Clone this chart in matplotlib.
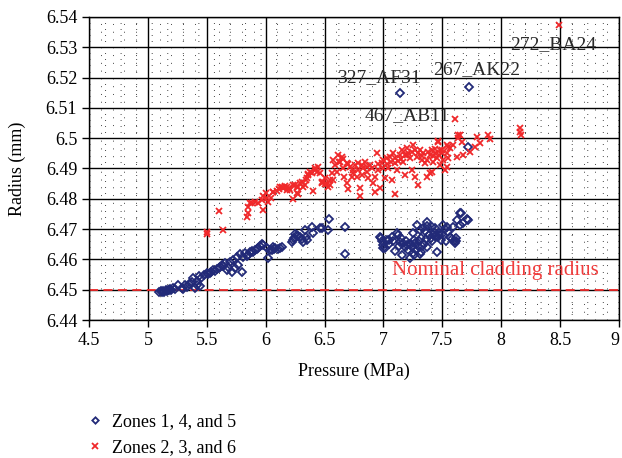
import matplotlib
matplotlib.use("Agg")
import matplotlib.pyplot as plt
from matplotlib.ticker import MultipleLocator

plt.rcParams['font.family'] = ['Liberation Serif', 'DejaVu Serif']

# Zones 1, 4, and 5 (pressure MPa, radius mm)
blue_p = [5.097, 5.11, 5.12, 5.13, 5.14, 5.15, 5.16, 5.17, 5.18, 5.19, 5.20, 5.216, 5.23,
          5.258, 5.287, 5.30, 5.315, 5.33, 5.35, 5.372, 5.386, 5.40, 5.414, 5.42, 5.437,
          5.442, 5.45, 5.48, 5.499, 5.51, 5.527, 5.54, 5.556, 5.57, 5.584, 5.60, 5.612,
          5.625, 5.64, 5.655, 5.669, 5.683, 5.697, 5.711, 5.725, 5.74, 5.754, 5.768, 5.782,
          5.796, 5.81, 5.824, 5.84, 5.853, 5.867, 5.881, 5.895, 5.909, 5.925, 5.938, 5.952,
          5.966, 5.975, 6.008, 6.022, 6.037, 6.051, 6.059, 6.07, 6.079, 6.107, 6.122, 6.136,
          6.22, 6.229, 6.24, 6.249, 6.262, 6.275, 6.291, 6.305, 6.32, 6.333, 6.342, 6.348,
          6.39, 6.399, 6.461, 6.475, 6.532, 6.54, 6.673, 6.673,
          6.97, 6.976, 6.998, 7.013, 7.027, 7.05, 7.069, 7.098, 7.111, 7.125, 7.14, 7.147,
          7.154, 7.165, 7.182, 7.19, 7.21, 7.225, 7.235, 7.253, 7.26, 7.281, 7.29, 7.31,
          7.318, 7.338, 7.345, 7.366, 7.372, 7.385, 7.409, 7.415, 7.43, 7.451, 7.46, 7.475,
          7.49, 7.508, 7.52, 7.536, 7.55, 7.564, 7.578, 7.592, 7.607, 7.615, 7.621, 7.649,
          7.65, 7.658, 7.677, 7.706, 7.72,
          7.20, 7.22, 7.24, 7.27, 7.30, 7.33, 7.36, 7.40, 7.42, 7.44, 7.47, 7.50, 7.28, 7.32,
          7.26, 7.31, 7.53, 7.60, 7.62, 7.25, 7.35, 7.37, 7.44, 7.05, 7.08, 7.13, 6.99, 7.00,
          7.72, 7.14, 7.73]
blue_r = [6.4491, 6.4495, 6.4492, 6.4497, 6.4494, 6.4499, 6.4496, 6.4500, 6.4498, 6.4502, 6.4499, 6.4504, 6.4501,
          6.4515, 6.4507, 6.4503, 6.4515, 6.4510, 6.4520, 6.4526, 6.4537, 6.4504, 6.4515, 6.4530, 6.4545,
          6.4512, 6.4540, 6.4550, 6.4554, 6.4552, 6.4556, 6.4560, 6.4565, 6.4562, 6.4567, 6.4570, 6.4574,
          6.4580, 6.4578, 6.4587, 6.4565, 6.4576, 6.4592, 6.4559, 6.4598, 6.4570, 6.4609, 6.4581, 6.4618,
          6.4559, 6.4609, 6.4620, 6.4612, 6.4614, 6.4624, 6.4629, 6.4626, 6.4631, 6.4634, 6.4637, 6.4644,
          6.4651, 6.4647, 6.4637, 6.4606, 6.4631, 6.4631, 6.4642, 6.4635, 6.4636, 6.4633, 6.4638, 6.4640,
          6.4658, 6.4664, 6.4672, 6.4684, 6.4682, 6.4676, 6.4675, 6.4666, 6.4658, 6.4697, 6.4675, 6.4664,
          6.4708, 6.4686, 6.4702, 6.4702, 6.4697, 6.4733, 6.4708, 6.4617,
          6.4673, 6.4672, 6.4636, 6.4636, 6.4664, 6.4664, 6.4675, 6.4629, 6.4686, 6.4680, 6.4658, 6.4672,
          6.4614, 6.4655, 6.4642, 6.4662, 6.4631, 6.4603, 6.4650, 6.4620, 6.4665, 6.4713, 6.4645, 6.4697,
          6.4670, 6.4702, 6.4652, 6.4724, 6.4640, 6.4680, 6.4708, 6.4660, 6.4690, 6.4626, 6.4675, 6.4688,
          6.4665, 6.4713, 6.4700, 6.4708, 6.4690, 6.4675, 6.4668, 6.4708, 6.4653, 6.4662, 6.4730, 6.4752,
          6.4713, 6.4754, 6.4719, 6.4732, 6.4730,
          6.4648, 6.4652, 6.4640, 6.4655, 6.4660, 6.4645, 6.4668, 6.4672, 6.4680, 6.4676, 6.4679, 6.4685, 6.4630, 6.4625,
          6.4615, 6.4618, 6.4660, 6.4660, 6.4670, 6.4688, 6.4695, 6.4710, 6.4705, 6.4650, 6.4660, 6.4645, 6.4660, 6.4648,
          6.4972, 6.5150, 6.5168]

# Zones 2, 3, and 6
red_p = [5.499, 5.499, 5.607, 5.635, 5.838, 5.847, 5.853, 5.867, 5.881, 5.909, 5.938, 5.966, 5.98,
         5.98, 6.003, 6.008, 6.022, 6.042, 6.059, 6.065, 6.093, 6.11, 6.122, 6.135, 6.15, 6.165,
         6.178, 6.184, 6.195, 6.207, 6.229, 6.235, 6.249, 6.262, 6.269, 6.277, 6.277, 6.292,
         6.305, 6.32, 6.334, 6.342, 6.348, 6.362, 6.362, 6.376, 6.39, 6.404, 6.419, 6.419,
         6.433, 6.447, 6.461, 6.475, 6.475, 6.49, 6.503, 6.504, 6.518, 6.532, 6.546, 6.546,
         6.56, 6.574, 6.574, 6.588, 6.602, 6.617, 6.631, 6.645, 6.659, 6.665, 6.687, 6.687,
         6.701, 6.715, 6.73, 6.745, 6.758, 6.772, 6.786, 6.80, 6.80, 6.815, 6.829, 6.843,
         6.857, 6.871, 6.885, 6.90, 6.914, 6.928, 6.928, 6.942, 6.956, 6.97, 6.984, 6.999,
         7.013, 7.027, 7.041, 7.055, 7.069, 7.084, 7.098, 7.098, 7.112, 7.126, 7.14, 7.154,
         7.168, 7.182, 7.183, 7.197, 7.211, 7.225, 7.239, 7.253, 7.268, 7.268, 7.282, 7.296,
         7.31, 7.324, 7.338, 7.352, 7.366, 7.367, 7.395, 7.395, 7.409, 7.409, 7.423, 7.437,
         7.451, 7.46, 7.466, 7.48, 7.48, 7.494, 7.508, 7.522, 7.536, 7.536, 7.536, 7.55,
         7.55, 7.565, 7.593, 7.607, 7.621, 7.635, 7.635, 7.65, 7.664, 7.678, 7.734, 7.777,
         7.791, 7.82, 7.89, 7.904, 8.159, 8.159, 8.165, 8.49,
         6.62, 6.66, 6.70, 6.74, 6.78, 6.82, 6.86, 6.95, 7.00, 7.03, 7.06, 7.10, 7.15, 7.20,
         7.24, 7.29, 7.33, 7.38, 7.42, 7.44, 7.47, 7.50]
red_r = [6.4691, 6.4684, 6.4760, 6.4697, 6.4741, 6.4774, 6.4752, 6.4785, 6.4785, 6.4790, 6.4787, 6.4796, 6.4809,
         6.4763, 6.4818, 6.4801, 6.4790, 6.4801, 6.4823, 6.4823, 6.4827, 6.4832, 6.4840, 6.4838, 6.4834, 6.4842,
         6.4840, 6.4829, 6.4836, 6.4829, 6.4798, 6.4845, 6.4846, 6.4838, 6.4820, 6.4840, 6.4816, 6.4853,
         6.4857, 6.4840, 6.4845, 6.4862, 6.4867, 6.4878, 6.4882, 6.4890, 6.4885, 6.4827, 6.4895, 6.4900,
         6.4890, 6.4906, 6.4884, 6.4851, 6.4856, 6.4856, 6.4849, 6.4867, 6.4849, 6.4840, 6.4862, 6.4845,
         6.4884, 6.4862, 6.4928, 6.4911, 6.4889, 6.4944, 6.4922, 6.4939, 6.4900, 6.4873, 6.4917, 6.4851,
         6.4831, 6.4905, 6.4873, 6.4895, 6.4910, 6.4873, 6.4917, 6.4837, 6.4809, 6.4911, 6.4900, 6.4922,
         6.4889, 6.4867, 6.4911, 6.4900, 6.4851, 6.4873, 6.4823, 6.4952, 6.4895, 6.4834, 6.4917, 6.4928,
         6.4867, 6.4933, 6.4900, 6.4939, 6.4862, 6.4950, 6.4917, 6.4816, 6.4895, 6.4925, 6.4944, 6.4961,
         6.4922, 6.4878, 6.4944, 6.4966, 6.4950, 6.4933, 6.4895, 6.4977, 6.4961, 6.4873, 6.4939, 6.4846,
         6.4961, 6.4928, 6.4950, 6.4917, 6.4873, 6.4928, 6.4944, 6.4884, 6.4961, 6.4889, 6.4922, 6.4950,
         6.4933, 6.4992, 6.4988, 6.4961, 6.4911, 6.4961, 6.4928, 6.4895, 6.4977, 6.4950, 6.4906, 6.4933,
         6.4972, 6.4966, 6.4978, 6.5065, 6.4939, 6.4999, 6.5010, 6.5010, 6.4988, 6.4944, 6.4955, 6.4972,
         6.5003, 6.4985, 6.5010, 6.4996, 6.5033, 6.5021, 6.5010, 6.5374,
         6.4920, 6.4930, 6.4915, 6.4885, 6.4895, 6.4880, 6.4905, 6.4915, 6.4900, 6.4915, 6.4920, 6.4935, 6.4930, 6.4945,
         6.4955, 6.4950, 6.4940, 6.4955, 6.4940, 6.4965, 6.4945, 6.4950]

x_ticks = [4.5, 5, 5.5, 6, 6.5, 7, 7.5, 8, 8.5, 9]
y_ticks = [6.44, 6.45, 6.46, 6.47, 6.48, 6.49, 6.5, 6.51, 6.52, 6.53, 6.54]

nominal = 6.45
ids = ["327_AF31", "267_AK22", "272_BA24", "467_AB11"]
id_pos = [(6.605, 6.5199), (7.42, 6.5225), (8.074, 6.5308), (6.843, 6.5073)]

fig = plt.figure(figsize=(6.22, 4.58), dpi=100)
ax = fig.add_axes([0.1431, 0.3013, 0.8521, 0.6616])

ax.set_xticks(x_ticks, ['%g' % v for v in x_ticks])
ax.set_yticks(y_ticks, ['%g' % v for v in y_ticks])
ax.set_xlim(4.5, 9)
ax.set_ylim(6.44, 6.54)
ax.xaxis.set_minor_locator(MultipleLocator(0.1))
ax.yaxis.set_minor_locator(MultipleLocator(0.002))

ax.grid(which='major', color='black', linewidth=1.0)
ax.xaxis.grid(which='minor', color='#444444', linewidth=0.7, linestyle=(0, (1, 7)))
ax.yaxis.grid(which='minor', color='#444444', linewidth=0.7, linestyle=(0, (1, 15)))
ax.set_axisbelow(True)
ax.tick_params(which='minor', length=0)
ax.tick_params(which='major', direction='out', length=5, width=1, labelsize=13, colors='black')
for s in ax.spines.values():
    s.set_color('black')
    s.set_linewidth(1.0)

# last x tick label sits at the figure edge in the original
ax.get_xticklabels()[-1].set_horizontalalignment('right')

ax.axhline(nominal, color='#f02a2a', linestyle=(0, (5, 3)), linewidth=1.3, zorder=2)

ax.plot(blue_p, blue_r, linestyle='none', marker='D', markersize=3.6, markerfacecolor='none',
        markeredgecolor='#222a78', markeredgewidth=1.3, label='Zones 1, 4, and 5', zorder=3)
ax.plot(red_p, red_r, linestyle='none', marker='x', markersize=4.8, color='#f0282a',
        markeredgewidth=1.3, label='Zones 2, 3, and 6', zorder=3)

for t, (px, py) in zip(ids, id_pos):
    ax.text(px, py, t, fontsize=14, color='#2a2a2a', ha='left', va='center', zorder=4)
ax.text(7.072, 6.4565, "Nominal cladding radius", fontsize=15, color='#f03c3c',
        ha='left', va='center', zorder=4)

ax.set_xlabel("Pressure (MPa)", fontsize=13, labelpad=10)
ax.set_ylabel("Radius (mm)", fontsize=13, labelpad=14)

fig.legend(loc='upper left', bbox_to_anchor=(0.124, 0.117), frameon=False, fontsize=13,
           handlelength=1.0, handletextpad=0.45, labelspacing=0.5, borderpad=0, markerscale=0.9)

fig.savefig('out.png', dpi=100)
